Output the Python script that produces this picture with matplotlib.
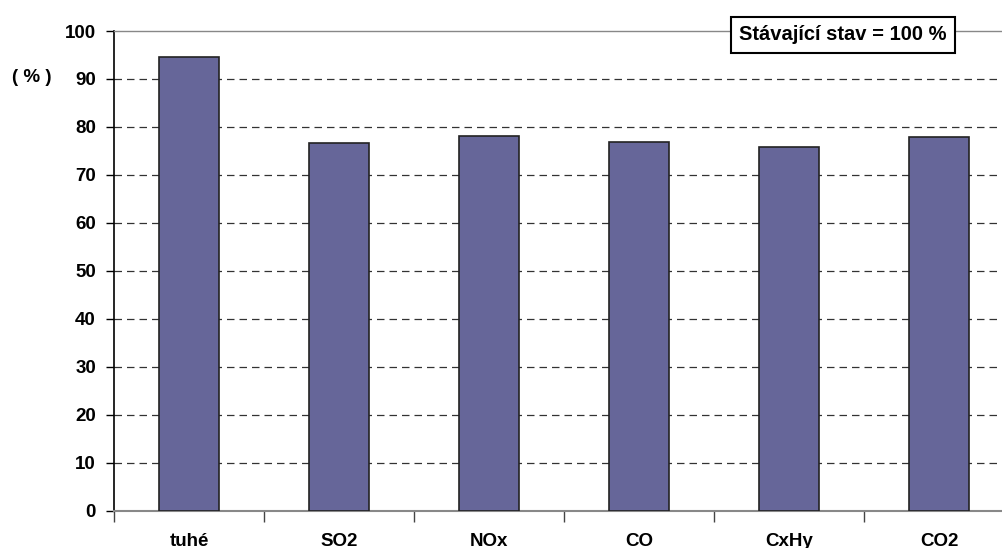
import matplotlib.pyplot as plt
import numpy as np

plt.rcParams['font.family'] = ['Liberation Sans', 'DejaVu Sans']
plt.rcParams['font.weight'] = 'bold'

categories = ['tuhé', 'SO2', 'NOx', 'CO', 'CxHy', 'CO2']
values = [94.6, 76.6, 78.2, 76.9, 75.9, 78.0]

fig = plt.figure(figsize=(10.02, 5.48), dpi=100)
ax = fig.add_axes([114/1002, 37.3/548, 900/1002, 479.7/548])

x = np.arange(len(categories))
ax.bar(x, values, width=0.4, color='#666699', edgecolor='#222222', linewidth=1.2, zorder=3)

ax.set_xlim(-0.5, len(categories) - 0.5)
ax.set_ylim(0, 100)

# grid lines 10..90 dashed
for v in range(10, 100, 10):
    ax.axhline(v, color='#333333', linestyle=(0, (6, 4)), linewidth=0.9, zorder=1)

ax.set_yticks(range(0, 101, 10))
ax.tick_params(axis='y', length=6, width=1, pad=7, labelsize=13.5, color='black')
ax.set_xticks(np.arange(-0.5, len(categories), 1.0))
ax.set_xticklabels([])
ax.set_xticks(x, minor=True)
ax.set_xticklabels(categories, minor=True, fontsize=13.5, fontweight='bold')
ax.tick_params(axis='x', which='major', length=8, width=1, color='#444444')
ax.tick_params(axis='x', which='minor', length=0, pad=16)

for lab in ax.get_yticklabels():
    lab.set_fontweight('bold')

ax.spines['left'].set_color('black')
ax.spines['left'].set_linewidth(1.2)
ax.spines['bottom'].set_color('#888888')
ax.spines['bottom'].set_linewidth(1.5)
ax.spines['top'].set_color('#888888')
ax.spines['top'].set_linewidth(1.0)
ax.spines['right'].set_visible(False)

fig.text(32/1002, 1 - 78/548, '( % )', ha='center', va='center', fontsize=13.5, fontweight='bold')

fig.text(843/1002, 1 - 35/548, 'Stávající stav = 100 %', ha='center', va='center',
         fontsize=14.5, fontweight='bold',
         bbox=dict(boxstyle='square,pad=0.4', facecolor='white', edgecolor='black', linewidth=1.5))

fig.savefig('out.png', dpi=100)
